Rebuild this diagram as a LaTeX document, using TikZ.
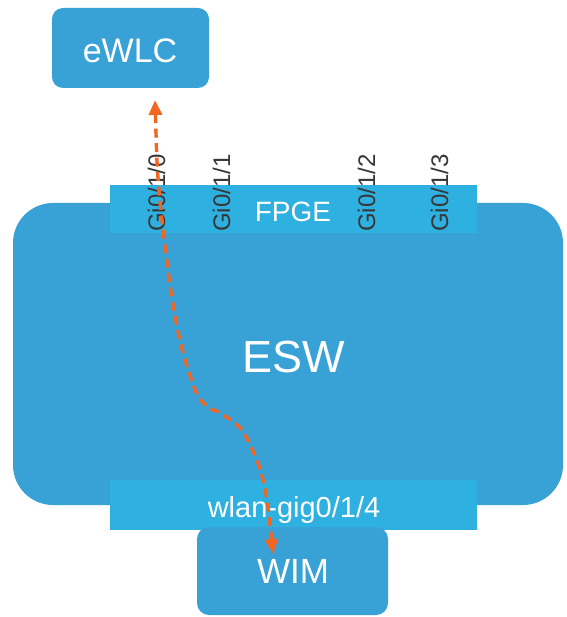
\documentclass[tikz,border=0pt]{standalone}
\usepackage{fontspec}
\setmainfont{Liberation Sans}
\usetikzlibrary{arrows.meta}
\definecolor{boxblue}{RGB}{56,161,214}
\definecolor{bandblue}{RGB}{46,176,224}
\definecolor{flow}{RGB}{240,102,34}
\definecolor{porttxt}{RGB}{55,55,55}
\tikzset{
  boxfill/.style={fill=boxblue, draw=none},
  bandfill/.style={fill=bandblue, draw=none},
  wtxt/.style={text=white, inner sep=0pt, anchor=base},
  porttext/.style={text=porttxt, inner sep=0pt, rotate=90, anchor=base west, font=\fontsize{24}{24}\selectfont},
  flowline/.style={draw=flow, line width=3.4pt, dash pattern=on 9pt off 5.5pt, {Triangle[length=15pt,width=13pt]}-{Triangle[length=15pt,width=13pt]}}
}
\begin{document}
\begin{tikzpicture}[x=1pt,y=-1pt]
\useasboundingbox (0,0) rectangle (566,617);
% ESW main box
\path[boxfill, rounded corners=40pt] (13,203) rectangle (563,505);
% bands
\path[bandfill] (110,185) rectangle (477,233);
\path[bandfill] (110,480) rectangle (477,530);
% eWLC and WIM
\path[boxfill, rounded corners=11pt] (52,8) rectangle (209,88);
\path[boxfill, rounded corners=12pt] (197,527) rectangle (388,615);
% texts
\node[wtxt, font=\fontsize{34}{34}\selectfont] (ewlc) at (130,63) {eWLC};
\node[wtxt, font=\fontsize{45}{45}\selectfont] (esw) at (294,372) {ESW};
\node[wtxt, font=\fontsize{28}{28}\selectfont] (fpge) at (293,222) {FPGE};
\node[wtxt, font=\fontsize{29}{29}\selectfont] (wlan) at (294,517) {wlan-gig0/1/4};
\node[wtxt, font=\fontsize{35}{35}\selectfont] (wim) at (293,583) {WIM};
% port labels
\node[porttext] (p0) at (165,232) {Gi0/1/0};
\node[porttext] (p1) at (230,232) {Gi0/1/1};
\node[porttext] (p2) at (375,232) {Gi0/1/2};
\node[porttext] (p3) at (448,232) {Gi0/1/3};
% flow
\coordinate (ftop) at (155,100);
\coordinate (fbot) at (273,554);
\draw[flowline] plot[smooth, tension=0.5] coordinates {(ftop) (159,190) (170,285) (181,345) (196,392) (208,407) (220,413) (242,430) (259,466) (267,500) (fbot)};
\end{tikzpicture}
\end{document}
